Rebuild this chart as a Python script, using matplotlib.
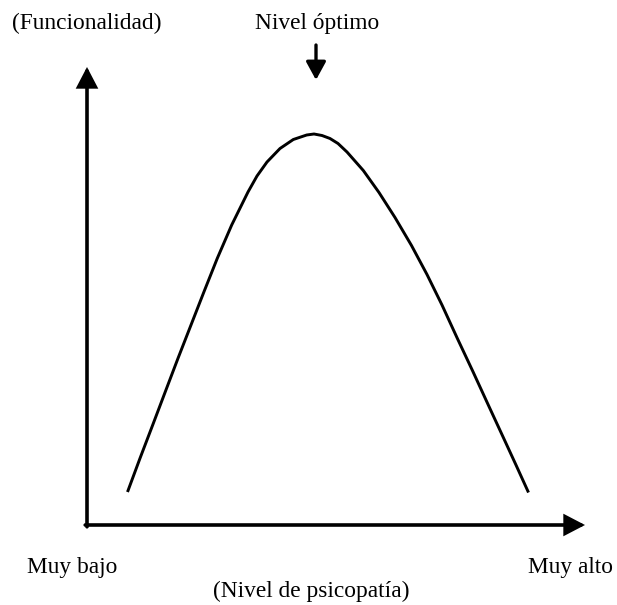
"""
Inverted-U diagram: functionality vs. level of psychopathy.
"""

import matplotlib
matplotlib.use("Agg")
import matplotlib.pyplot as plt

# Curve (units: px from the axes origin)
nivel_psicopatia = [40.5, 53, 65.7, 78.3, 91, 104, 117, 130.3, 144.7, 161, 170, 180,
                    193, 206.3, 219.7, 227, 235, 243, 251, 260, 276.3, 292, 308,
                    324.5, 340, 355, 370.3, 386, 401.3, 416.7, 429, 441.5]
funcionalidad = [33, 66.7, 100, 133.3, 166.7, 200, 233.3, 266.7, 300, 333, 349, 363,
                 376.5, 385.5, 390, 391, 389.5, 386.5, 381.5, 373, 354.5, 332.5, 307.5,
                 279.5, 250.5, 220, 186.7, 153.3, 120, 86.7, 60, 32.5]

# Axis extents and the "optimal level" marker
x_axis_end = 498
y_axis_end = 458
nivel_optimo_x = 229
nivel_optimo_arrow = (480, 445)

eje_y_label = "(Funcionalidad)"
eje_x_label = "(Nivel de psicopatía)"
optimo_label = "Nivel óptimo"
x_extremos = ["Muy bajo", "Muy alto"]

FONT = "Liberation Serif"
FS = 16.8


def plot_inverted_u() -> None:
    fig = plt.figure(figsize=(6.17, 6.05), dpi=100)
    ax = fig.add_axes([0, 0, 1, 1])
    ax.set_xlim(-87, 530)
    ax.set_ylim(-80, 525)
    ax.axis("off")

    # Axes as arrows (start half a line width back so the corner is square)
    axis_arrow = dict(arrowstyle="-|>,head_length=1.15,head_width=0.6",
                      mutation_scale=10, lw=2.6, color="black",
                      shrinkA=0, shrinkB=0, joinstyle="miter")
    ax.annotate("", xy=(x_axis_end, 0), xytext=(-1.8, 0), arrowprops=axis_arrow)
    ax.annotate("", xy=(0, y_axis_end), xytext=(0, -1.8), arrowprops=axis_arrow)

    # The curve
    ax.plot(nivel_psicopatia, funcionalidad, color="black", lw=2.1,
            solid_joinstyle="round", solid_capstyle="butt")

    # Optimal level arrow
    ax.annotate("", xy=(nivel_optimo_x, nivel_optimo_arrow[1]),
                xytext=(nivel_optimo_x, nivel_optimo_arrow[0]),
                arrowprops=dict(arrowstyle="-|>,head_length=1.1,head_width=0.6",
                                mutation_scale=10, lw=2.4, color="black",
                                shrinkA=0, shrinkB=0))

    # Labels
    ax.text(0, 495.5, eje_y_label, ha="center", va="baseline",
            fontsize=FS, family=FONT)
    ax.text(nivel_optimo_x + 1, 495.5, optimo_label, ha="center", va="baseline",
            fontsize=FS, family=FONT)
    ax.text(-59.5, -48, x_extremos[0], ha="left", va="baseline",
            fontsize=FS, family=FONT)
    ax.text(440.5, -48, x_extremos[1], ha="left", va="baseline",
            fontsize=FS, family=FONT)
    ax.text(224, -72.5, eje_x_label, ha="center", va="baseline",
            fontsize=FS, family=FONT)

    fig.savefig("out.png", dpi=100, facecolor="white")


plot_inverted_u()
